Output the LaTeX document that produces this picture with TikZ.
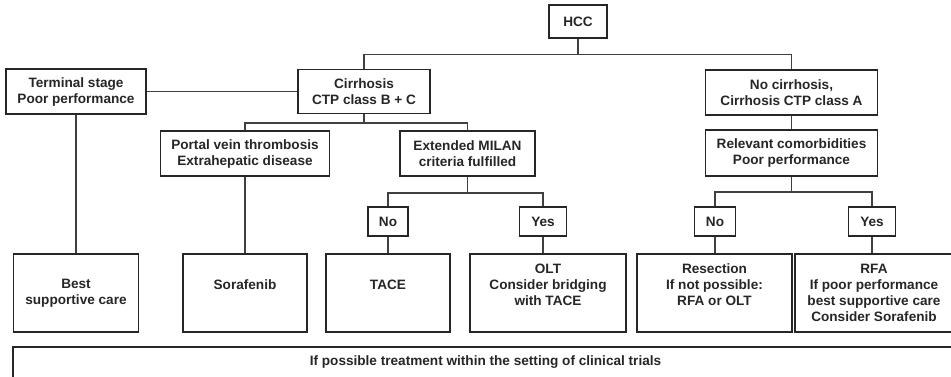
\documentclass[tikz,border=0pt]{standalone}
\usepackage{fontspec}
\setmainfont{Liberation Sans}
\usetikzlibrary{positioning,calc}
\tikzset{
  box/.style={draw=black!85, line width=1.8pt, align=center, inner sep=0pt,
    text=black!85, font=\bfseries\fontsize{13.6}{16}\selectfont},
  small/.style={box, minimum height=29},
  leaf/.style={box, minimum width=124, minimum height=78},
  link/.style={draw=black!75, line width=1.3pt}
}
\begin{document}
\begin{tikzpicture}[x=1pt,y=-1pt]
\useasboundingbox (0,0) rectangle (951,377);
\node[box, minimum width=58, minimum height=33] (hcc) at (578,21.5) {HCC};
\node[box, minimum width=132, minimum height=44] (cirr) at (364,91.5) {Cirrhosis\\CTP class B + C};
\node[box, minimum width=140, minimum height=45] (term) at (76,91.5) {Terminal stage\\Poor performance};
\node[box, minimum width=172, minimum height=45] (nocirr) at (791.5,92.5) {No cirrhosis,\\Cirrhosis CTP class A};
\node[box, minimum width=169, minimum height=45] (portal) at (245,153.5) {Portal vein thrombosis\\Extrahepatic disease};
\node[box, minimum width=135, minimum height=45] (milan) at (467.5,153.5) {Extended MILAN\\criteria fulfilled};
\node[box, minimum width=172, minimum height=46] (relev) at (791.5,153) {Relevant comorbidities\\Poor performance};
\node[small, minimum width=40] (no1) at (388,221.5) {No};
\node[small, minimum width=47] (yes1) at (543,221.5) {Yes};
\node[small, minimum width=41] (no2) at (715,221.5) {No};
\node[small, minimum width=47] (yes2) at (872,221.5) {Yes};
\node[leaf, minimum width=125] (best) at (76,293) {Best\\supportive care};
\node[leaf] (sora) at (245,293) {Sorafenib\\~};
\node[leaf] (tace) at (388,293) {TACE\\~};
\node[leaf, minimum width=156] (olt) at (548,293) {OLT\\Consider bridging\\with TACE\\~};
\node[leaf, minimum width=155] (resec) at (714.5,293) {Resection\\If not possible:\\RFA or OLT\\~};
\node[leaf, minimum width=158] (rfa) at (874,293) {RFA\\If poor performance\\best supportive care\\Consider Sorafenib};
\node[box, minimum width=945, minimum height=31] (trials) at (485.5,362.5) {If possible treatment within the setting of clinical trials};
\coordinate (hccbar) at ($(hcc.south)+(0,15.5)$);
\coordinate (cirrbar) at ($(cirr.south)+(0,8.5)$);
\coordinate (milanbar) at ($(milan.south)+(0,16)$);
\coordinate (relevbar) at ($(relev.south)+(0,15)$);
\draw[link] (hcc.south) -- (hccbar);
\draw[link] (cirr.north) |- (hccbar) -| (nocirr.north);
\draw[link] (term.east) -- (cirr.west);
\draw[link] (term.south) -- (best.north);
\draw[link] (cirr.south) -- (cirrbar);
\draw[link] (portal.north) |- (cirrbar) -| (milan.north);
\draw[link] (portal.south) -- (sora.north);
\draw[link] (milan.south) -- (milanbar);
\draw[link] (no1.north) |- (milanbar) -| (yes1.north);
\draw[link] (no1.south) -- (tace.north);
\draw[link] (yes1.south) -- (yes1.south |- olt.north);
\draw[link] (nocirr.south) -- (relev.north);
\draw[link] (relev.south) -- (relevbar);
\draw[link] (no2.north) |- (relevbar) -| (yes2.north);
\draw[link] (no2.south) -- (no2.south |- resec.north);
\draw[link] (yes2.south) -- (yes2.south |- rfa.north);
\end{tikzpicture}
\end{document}
